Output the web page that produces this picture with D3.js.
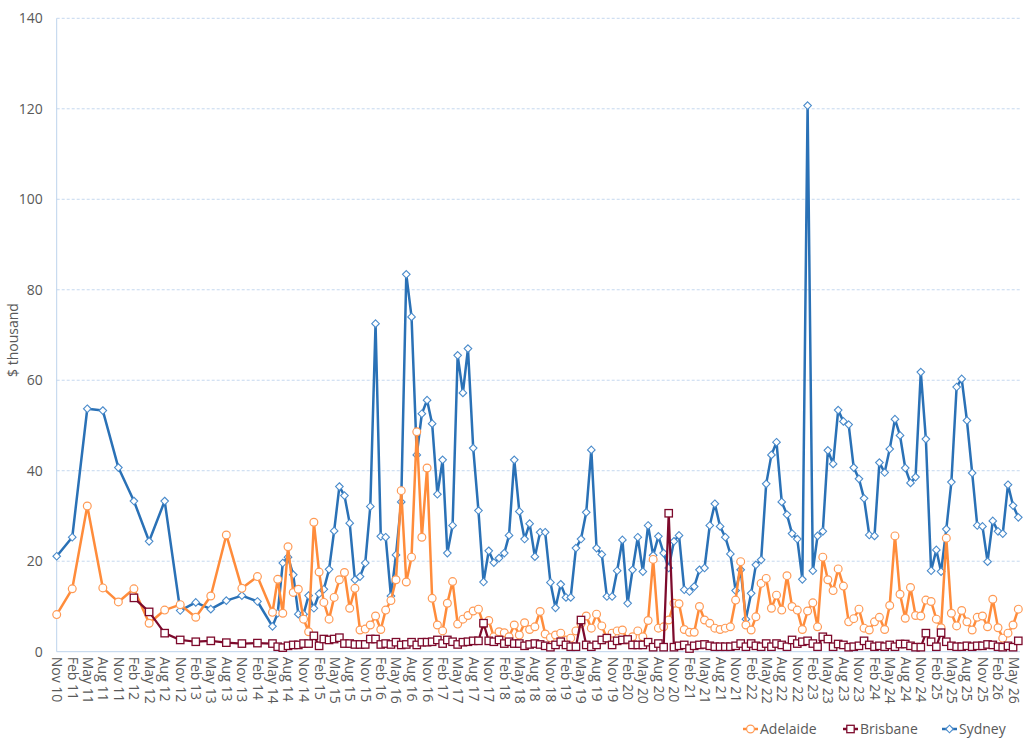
<!DOCTYPE html>
<html>
<head>
<meta charset="utf-8">
<script src="https://cdn.jsdelivr.net/npm/d3@7"></script>
<style>
  html, body { margin: 0; padding: 0; background: #fff; }
  svg { display: block; }
  text { font-family: "Open Sans", "Noto Sans", sans-serif; fill: #595959; }
</style>
</head>
<body>
<svg id="chart" width="1035" height="747"></svg>
<script>
// ---- Data ----
// Observation months: quarterly to May 2014, monthly afterwards
const months = [
  "2010-11","2011-02","2011-05","2011-08","2011-11","2012-02","2012-05","2012-08","2012-11",
  "2013-02","2013-05","2013-08","2013-11","2014-02","2014-05",
  "2014-06","2014-07","2014-08","2014-09","2014-10","2014-11","2014-12",
  "2015-01","2015-02","2015-03","2015-04","2015-05","2015-06","2015-07","2015-08","2015-09","2015-10","2015-11","2015-12",
  "2016-01","2016-02","2016-03","2016-04","2016-05","2016-06","2016-07","2016-08","2016-09","2016-10","2016-11","2016-12",
  "2017-01","2017-02","2017-03","2017-04","2017-05","2017-06","2017-07","2017-08","2017-09","2017-10","2017-11","2017-12",
  "2018-01","2018-02","2018-03","2018-04","2018-05","2018-06","2018-07","2018-08","2018-09","2018-10","2018-11","2018-12",
  "2019-01","2019-02","2019-03","2019-04","2019-05","2019-06","2019-07","2019-08","2019-09","2019-10","2019-11","2019-12",
  "2020-01","2020-02","2020-03","2020-04","2020-05","2020-06","2020-07","2020-08","2020-09","2020-10","2020-11","2020-12",
  "2021-01","2021-02","2021-03","2021-04","2021-05","2021-06","2021-07","2021-08","2021-09","2021-10","2021-11","2021-12",
  "2022-01","2022-02","2022-03","2022-04","2022-05","2022-06","2022-07","2022-08","2022-09","2022-10","2022-11","2022-12",
  "2023-01","2023-02","2023-03","2023-04","2023-05","2023-06","2023-07","2023-08","2023-09","2023-10","2023-11","2023-12",
  "2024-01","2024-02","2024-03","2024-04","2024-05","2024-06","2024-07","2024-08","2024-09","2024-10","2024-11","2024-12",
  "2025-01","2025-02","2025-03","2025-04","2025-05","2025-06","2025-07","2025-08","2025-09","2025-10","2025-11","2025-12",
  "2026-01","2026-02","2026-03","2026-04","2026-05","2026-06"
];

const adelaide = [
  8.2,13.9,32.2,14.1,11.0,13.9,6.3,9.2,10.4,
  7.6,12.3,25.8,14.0,16.6,8.7,
  16.0,8.5,23.2,13.1,13.8,7.2,4.4,
  28.6,17.6,10.9,7.2,12.0,15.9,17.5,9.6,14.0,4.8,5.0,5.9,
  7.9,4.9,9.2,11.3,15.9,35.6,15.4,20.9,48.6,25.3,40.6,11.8,
  5.9,4.6,10.7,15.5,6.1,7.2,8.0,9.0,9.4,6.0,6.9,3.3,
  4.4,4.2,3.3,5.9,3.7,6.4,4.9,5.5,8.9,3.9,3.1,3.7,
  4.1,2.6,3.0,4.6,6.2,7.9,5.2,8.3,5.7,3.0,4.1,4.6,
  4.8,2.6,3.3,4.6,3.3,6.9,20.4,5.2,5.5,7.0,10.7,10.6,
  4.9,4.3,4.3,10.0,7.0,6.3,5.2,4.9,5.2,5.5,11.4,19.9,
  5.9,4.8,7.7,15.1,16.2,9.6,12.5,9.2,16.8,10.0,9.2,4.9,
  9.0,10.8,5.5,20.9,15.9,13.5,18.3,14.5,6.6,7.3,9.4,5.2,
  4.8,6.6,7.6,4.9,10.2,25.6,12.7,7.4,14.2,8.0,7.9,11.4,
  11.1,7.2,5.3,25.1,8.5,5.7,9.1,6.6,4.8,7.6,7.9,5.5,
  11.6,5.3,3.0,4.1,5.9,9.4
];

const brisbane = [
  null,null,null,null,null,11.9,8.8,4.1,2.6,
  2.2,2.4,2.0,1.8,1.9,1.8,
  1.1,0.9,1.3,1.5,1.5,1.8,1.8,
  3.5,1.3,2.8,2.6,2.8,3.1,1.8,1.8,1.6,1.6,1.6,2.8,
  2.8,1.6,1.8,1.6,2.1,1.5,1.6,2.1,1.5,2.1,2.1,2.2,
  2.6,1.8,2.6,2.2,1.6,2.1,2.2,2.4,2.4,6.3,2.4,2.2,
  2.6,1.8,2.2,1.8,1.8,1.3,1.6,1.8,1.6,1.3,1.0,1.5,
  2.2,1.5,1.1,1.1,7.0,1.5,1.1,1.5,2.6,3.0,1.5,2.4,
  2.6,2.7,1.5,1.5,1.5,2.1,1.0,1.8,1.0,30.6,1.0,1.3,
  1.5,0.7,1.3,1.5,1.6,1.3,1.1,1.1,1.1,1.1,1.3,1.8,
  1.1,1.8,1.3,1.1,1.8,1.1,1.8,1.5,1.1,2.6,1.8,2.2,
  2.4,1.8,1.1,3.3,2.8,1.1,1.7,1.5,1.0,1.1,1.3,2.4,
  1.5,1.1,1.3,1.1,1.5,1.1,1.7,1.7,1.3,1.0,1.0,4.1,
  2.2,1.1,4.2,2.2,1.3,1.1,1.1,1.3,1.1,1.3,1.3,1.6,
  1.5,1.1,1.0,1.3,1.0,2.4
];

const sydney = [
  21.1,25.3,53.7,53.3,40.7,33.3,24.4,33.3,9.1,
  10.9,9.4,11.3,12.4,11.1,5.6,
  8.5,19.6,20.9,17.0,8.3,8.3,12.4,
  9.6,12.8,13.8,18.2,26.7,36.5,34.5,28.4,15.9,16.6,19.6,32.1,
  72.5,25.5,25.3,12.3,21.4,33.1,83.4,74.0,43.5,52.6,55.6,50.4,
  34.8,42.4,21.8,27.9,65.5,57.2,67.0,45.0,31.2,15.4,22.3,19.7,
  20.7,21.8,25.7,42.4,31.0,24.9,28.3,21.0,26.4,26.4,15.3,9.7,
  14.9,12.0,12.0,22.9,24.9,30.8,44.6,22.9,21.5,12.2,12.2,17.9,
  24.7,10.7,18.1,25.3,17.7,27.9,21.3,25.5,21.8,18.5,24.4,25.7,
  13.7,13.3,14.4,18.1,18.5,27.9,32.7,27.7,25.3,21.6,13.5,18.1,
  7.2,12.9,19.2,20.3,37.1,43.5,46.3,33.1,30.3,26.1,24.9,16.0,
  120.7,17.9,25.6,26.6,44.5,41.5,53.4,50.9,50.2,40.7,38.2,33.9,
  25.8,25.6,41.8,39.6,44.8,51.4,47.8,40.6,37.3,38.6,61.8,47.0,
  17.9,22.5,17.7,27.1,37.5,58.5,60.3,51.1,39.5,27.9,27.7,19.9,
  28.9,26.6,26.1,36.9,32.3,29.7
];

const seriesNames = ["Adelaide", "Brisbane", "Sydney"];
const yTicks = [0, 20, 40, 60, 80, 100, 120, 140];
const xTickStart = "2010-11", xTickEnd = "2026-06", xTickStepMonths = 3;
const yTitle = "$ thousand";

// ---- Setup ----
const parse = d3.timeParse("%Y-%m");
const dates = months.map(parse);
const svg = d3.select("#chart");

const plotL = 56.7, plotR = 1018.3, plotT = 18.3, plotB = 651.7, gridR = 1020;
const x = d3.scaleTime().domain([dates[0], dates[dates.length - 1]]).range([plotL, plotR]);
const y = d3.scaleLinear().domain([0, 140]).range([plotB, plotT]);

const colors = { Adelaide: "#FF8C3B", Brisbane: "#7D0A2C", Sydney: "#2A71B6" };
const markerStroke = { Adelaide: "#FF9A55", Brisbane: "#7D0A2C", Sydney: "#4A8BCB" };

// gridlines
svg.append("g").selectAll("line")
  .data(yTicks.filter(t => t > 0))
  .join("line")
  .attr("x1", plotL).attr("x2", gridR)
  .attr("y1", d => y(d)).attr("y2", d => y(d))
  .attr("stroke", "#C5D8EF").attr("stroke-width", 1)
  .attr("stroke-dasharray", "3,2");

// axes lines
svg.append("line").attr("x1", plotL).attr("x2", plotL).attr("y1", plotT).attr("y2", plotB)
  .attr("stroke", "#BDD3EC").attr("stroke-width", 1);
svg.append("line").attr("x1", plotL).attr("x2", gridR).attr("y1", plotB).attr("y2", plotB)
  .attr("stroke", "#BDD3EC").attr("stroke-width", 1);

// y axis labels
const yAxis = d3.axisLeft(y).tickValues(yTicks).tickSize(0).tickPadding(14);
const gy = svg.append("g").attr("transform", `translate(${plotL},0)`).call(yAxis);
gy.select(".domain").remove();
gy.selectAll("text").style("font-size", "14px").attr("fill", "#595959")
  .style("font-family", '"Open Sans", sans-serif');

// x axis labels: every 3rd month starting Nov 2010
const tickDates = d3.timeMonth.range(parse(xTickStart), parse(xTickEnd), xTickStepMonths);
const fmt = d3.timeFormat("%b %y");
const xAxis = d3.axisBottom(x).tickValues(tickDates).tickFormat(fmt).tickSize(0);
const gx = svg.append("g").attr("transform", `translate(0,${plotB})`).call(xAxis);
gx.select(".domain").remove();
gx.selectAll("text")
  .style("font-size", "14px").attr("fill", "#595959")
  .style("font-family", '"Open Sans", sans-serif')
  .attr("text-anchor", "start")
  .attr("transform", "rotate(90)")
  .attr("x", 5).attr("y", 0).attr("dy", "0.36em");

// y title
svg.append("text")
  .attr("transform", `translate(18,${(plotT + plotB) / 2 + 5}) rotate(-90)`)
  .attr("text-anchor", "middle")
  .style("font-size", "14px")
  .text(yTitle);

// series
const valuesBy = { Adelaide: adelaide, Brisbane: brisbane, Sydney: sydney };
const line = d3.line().defined(d => d.v != null).x(d => x(d.d)).y(d => y(d.v));

function drawMarker(g, name, cx, cy) {
  if (name === "Adelaide") {
    g.append("circle").attr("cx", cx).attr("cy", cy).attr("r", 3.9)
      .attr("fill", "#fff").attr("stroke", markerStroke[name]).attr("stroke-width", 1.2);
  } else if (name === "Brisbane") {
    g.append("rect").attr("x", cx - 3.7).attr("y", cy - 3.7).attr("width", 7.4).attr("height", 7.4)
      .attr("fill", "#fff").attr("stroke", markerStroke[name]).attr("stroke-width", 1.3);
  } else {
    const s = 3.8;
    g.append("path").attr("d", `M${cx},${cy - s}L${cx + s},${cy}L${cx},${cy + s}L${cx - s},${cy}Z`)
      .attr("fill", "#fff").attr("stroke", markerStroke[name]).attr("stroke-width", 1.1);
  }
}

const drawOrder = ["Sydney", "Adelaide", "Brisbane"];
drawOrder.forEach(name => {
  const pts = dates.map((d, i) => ({ d, v: valuesBy[name][i] }));
  const g = svg.append("g");
  g.append("path").datum(pts).attr("d", line)
    .attr("fill", "none").attr("stroke", colors[name])
    .attr("stroke-width", name === "Brisbane" ? 2.25 : 2.5)
    .attr("stroke-linejoin", "round");
  pts.filter(p => p.v != null).forEach(p => drawMarker(g, name, x(p.d), y(p.v)));
});

// legend
const legendY = 729;
const legendX = { Adelaide: 743, Brisbane: 843, Sydney: 942 };
seriesNames.forEach(name => {
  const g = svg.append("g");
  const lx = legendX[name];
  g.append("line").attr("x1", lx).attr("x2", lx + 15).attr("y1", legendY).attr("y2", legendY)
    .attr("stroke", colors[name]).attr("stroke-width", 2.5);
  drawMarker(g, name, lx + 7.5, legendY);
  g.append("text").attr("x", lx + 17).attr("y", legendY).attr("dy", "0.35em")
    .style("font-size", "14px").text(name);
});
</script>
</body>
</html>
